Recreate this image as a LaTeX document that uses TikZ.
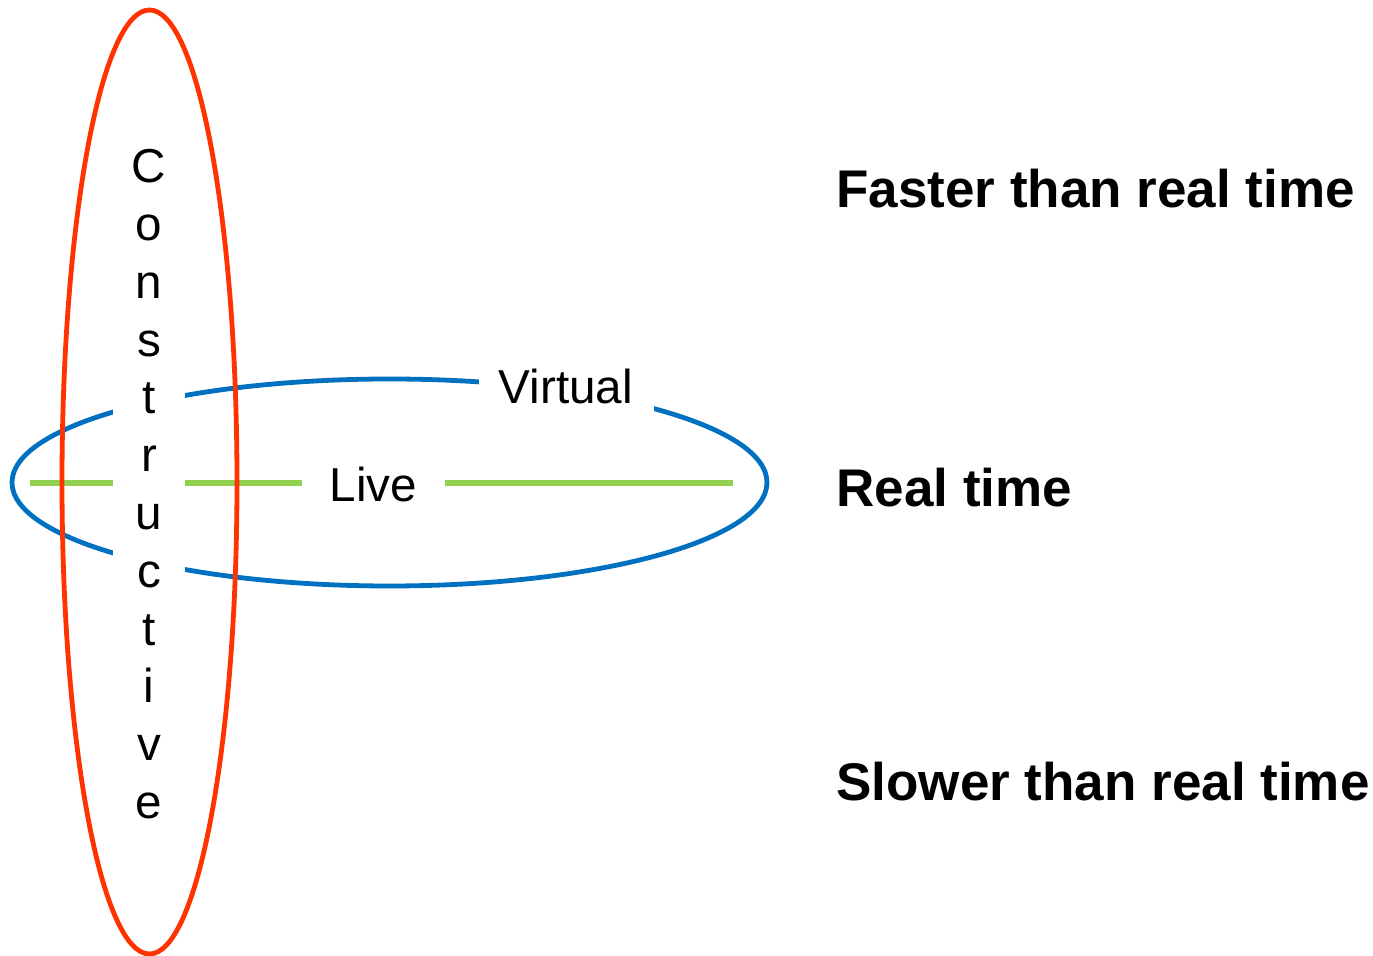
\documentclass[tikz,border=0pt]{standalone}
\usepackage{fontspec}
\setmainfont{Liberation Sans}
\definecolor{cred}{RGB}{255,51,0}
\definecolor{cblue}{RGB}{0,112,192}
\definecolor{cgreen}{RGB}{146,208,80}
\begin{document}
\begin{tikzpicture}[x=0.5pt,y=-0.5pt,
  ring/.style={line width=2.4pt},
  lbl/.style={fill=white, font=\fontsize{23.8pt}{28.9pt}\selectfont, inner sep=0pt},
  speed/.style={anchor=base west, inner sep=0pt, font=\fontsize{26.5pt}{30pt}\selectfont\bfseries}]
\useasboundingbox (0,0) rectangle (1373,956);
\draw[ring,cblue] (389.5,482.5) ellipse [x radius=188.75pt, y radius=51.75pt];
\coordinate (gl) at (30,483);
\coordinate (gr) at (733,483);
\draw[cgreen, line width=2.7pt] (gl) -- (gr);
\node[lbl, minimum width=36pt, align=center, anchor=north] (cons) at (149,149)
  {C\\o\\n\\s\\t\\r\\u\\c\\t\\i\\v\\e};
\node[lbl, minimum width=87.5pt, minimum height=27pt] (virt) at (566,386) {Virtual};
\node[lbl, minimum width=71.5pt, minimum height=22pt] (live) at (373.5,484) {Live};
\draw[ring,cred] (149.5,482) ellipse [x radius=43.75pt, y radius=236pt];
\node[speed] (fast) at (836,208) {Faster than real time};
\node[speed] (real) at (836,507) {Real time};
\node[speed] (slow) at (836,801) {Slower than real time};
\end{tikzpicture}
\end{document}
